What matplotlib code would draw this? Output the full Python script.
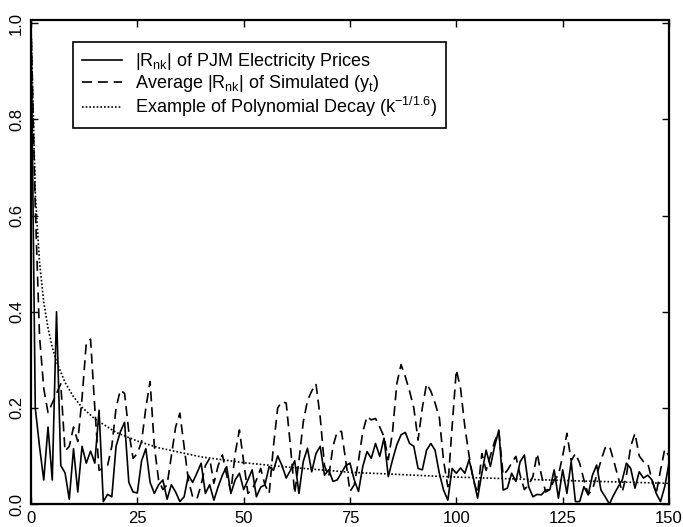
import numpy as np
import matplotlib
matplotlib.use('Agg')
import matplotlib.pyplot as plt

plt.rcParams['font.family'] = ['Liberation Sans', 'DejaVu Sans']
plt.rcParams['mathtext.fontset'] = 'custom'
plt.rcParams['mathtext.rm'] = 'Liberation Sans'
plt.rcParams['mathtext.it'] = 'Liberation Sans:italic'

# |R_nk| of PJM prices, lags 0..150
pjm = [1.0, 0.20, 0.12, 0.05, 0.16, 0.05, 0.40, 0.08, 0.065, 0.01,
       0.115, 0.025, 0.12, 0.085, 0.11, 0.085, 0.195, 0.005, 0.02, 0.015,
       0.12, 0.15, 0.17, 0.045, 0.025, 0.023, 0.09, 0.115, 0.045, 0.022,
       0.04, 0.05, 0.01, 0.04, 0.025, 0.005, 0.015, 0.06, 0.045, 0.064,
       0.085, 0.022, 0.04, 0.008, 0.036, 0.06, 0.078, 0.022, 0.05, 0.064,
       0.03, 0.05, 0.071, 0.015, 0.035, 0.04, 0.078, 0.07, 0.10, 0.08,
       0.054, 0.07, 0.09, 0.022, 0.088, 0.116, 0.067, 0.105, 0.12, 0.06,
       0.071, 0.047, 0.05, 0.065, 0.08, 0.085, 0.05, 0.026, 0.078, 0.109,
       0.095, 0.126, 0.099, 0.137, 0.057, 0.092, 0.123, 0.144, 0.149, 0.126,
       0.12, 0.074, 0.071, 0.112, 0.126, 0.112, 0.064, 0.029, 0.008, 0.074,
       0.064, 0.075, 0.064, 0.092, 0.054, 0.012, 0.064, 0.112, 0.078, 0.12,
       0.154, 0.029, 0.033, 0.064, 0.047, 0.088, 0.102, 0.036, 0.015, 0.02,
       0.019, 0.029, 0.03, 0.071, 0.012, 0.071, 0.022, 0.088, 0.005, 0.005,
       0.036, 0.019, 0.06, 0.081, 0.029, 0.015, 0.0, 0.019, 0.035, 0.05,
       0.085, 0.074, 0.033, 0.067, 0.054, 0.06, 0.05, 0.022, 0.005, 0.036,
       0.085]

# average |R_nk| of simulated y_t
sim = [1.0, 0.62, 0.35, 0.24, 0.19, 0.21, 0.23, 0.25, 0.11, 0.12,
       0.16, 0.13, 0.22, 0.335, 0.343, 0.20, 0.07, 0.075, 0.08, 0.12,
       0.20, 0.237, 0.23, 0.15, 0.095, 0.105, 0.13, 0.20, 0.255, 0.12,
       0.05, 0.03, 0.04, 0.10, 0.16, 0.189, 0.12, 0.05, 0.015, 0.01,
       0.04, 0.08, 0.095, 0.043, 0.08, 0.102, 0.06, 0.026, 0.105, 0.154,
       0.088, 0.022, 0.03, 0.05, 0.074, 0.04, 0.022, 0.12, 0.20, 0.213,
       0.21, 0.12, 0.022, 0.09, 0.17, 0.215, 0.235, 0.25, 0.18, 0.08,
       0.057, 0.12, 0.151, 0.151, 0.09, 0.026, 0.04, 0.09, 0.15, 0.182,
       0.175, 0.178, 0.16, 0.14, 0.092, 0.15, 0.25, 0.29, 0.265, 0.235,
       0.20, 0.133, 0.20, 0.25, 0.235, 0.21, 0.18, 0.09, 0.036, 0.16,
       0.279, 0.24, 0.161, 0.10, 0.05, 0.022, 0.105, 0.07, 0.10, 0.13,
       0.151, 0.06, 0.07, 0.085, 0.099, 0.06, 0.03, 0.04, 0.057, 0.105,
       0.06, 0.025, 0.03, 0.05, 0.06, 0.10, 0.147, 0.09, 0.105, 0.085,
       0.05, 0.02, 0.03, 0.06, 0.09, 0.117, 0.121, 0.09, 0.057, 0.025,
       0.06, 0.12, 0.147, 0.10, 0.088, 0.085, 0.05, 0.022, 0.07, 0.114,
       0.10]

# example polynomial decay curve
decay_lag = [0, 1, 2, 3, 4, 5, 6, 8, 10, 12, 15, 20, 25, 30, 40, 50,
             60, 75, 90, 100, 125, 150]
decay_val = [1.0, 0.648, 0.503, 0.42, 0.366, 0.326, 0.296, 0.253, 0.223,
             0.201, 0.177, 0.149, 0.131, 0.117, 0.098, 0.086, 0.077, 0.066,
             0.060, 0.056, 0.049, 0.043]

lags = np.arange(len(pjm))

fig = plt.figure(figsize=(6.83, 5.27), dpi=100)
ax = fig.add_axes([31 / 683, 23 / 527, 638 / 683, 484 / 527])

ax.plot(lags, pjm, color='black', lw=1.2,
        label=r'|R$_{\mathrm{nk}}$| of PJM Electricity Prices')
ax.plot(lags, sim, color='black', lw=1.2, dashes=(6, 3.5),
        label=r'Average |R$_{\mathrm{nk}}$| of Simulated (y$_{\mathrm{t}}$)')
ax.plot(decay_lag, decay_val, color='black', lw=1.2, dashes=(1, 1.2),
        label=r'Example of Polynomial Decay (k$^{\mathrm{-1/1.6}}$)')

ax.set_xlim(0, 150)
ax.set_ylim(0, 1.007)
ax.set_xticks([0, 25, 50, 75, 100, 125, 150])
ax.set_yticks([0.0, 0.2, 0.4, 0.6, 0.8, 1.0])
ax.set_yticklabels(['0.0', '0.2', '0.4', '0.6', '0.8', '1.0'],
                   rotation=90, va='center')
ax.tick_params(direction='in', length=5, width=1, labelsize=12,
               top=True, right=True, pad=5)
for s in ax.spines.values():
    s.set_linewidth(1.6)

leg = ax.legend(loc='upper left', bbox_to_anchor=(0.0658, 0.9545),
                fontsize=13, handlelength=2.2, handletextpad=0.75,
                borderpad=0.5, labelspacing=0.05, frameon=True,
                fancybox=False, framealpha=1, borderaxespad=0)
leg.get_frame().set_edgecolor('black')
leg.get_frame().set_linewidth(1.2)

fig.savefig('out.png', dpi=100)
